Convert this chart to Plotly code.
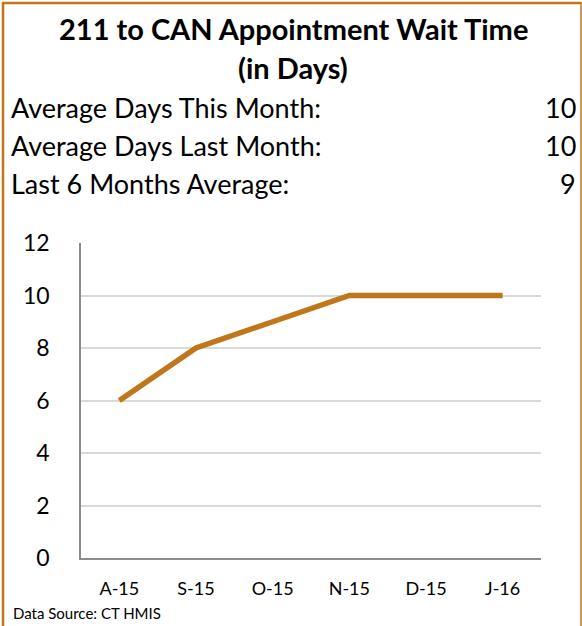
import plotly.graph_objects as go

months = ["A-15", "S-15", "O-15", "N-15", "D-15", "J-16"]
wait_days = [6, 8, 9, 10, 10, 10]
y_ticks = [0, 2, 4, 6, 8, 10, 12]

title_lines = ["211 to CAN Appointment Wait Time", "(in Days)"]
stat_labels = ["Average Days This Month:", "Average Days Last Month:", "Last 6 Months Average:"]
stat_values = ["10", "10", "9"]
source_text = "Data Source: CT HMIS"

W, H = 582, 626
L, R, T, B = 81, 41, 243, 68
PW, PH = W - L - R, H - T - B

def px(x):
    return (x - L) / PW

def py(y):
    return (H - B - y) / PH

FONT = "Lato, 'Open Sans', sans-serif"
ORANGE = "#C0761A"

fig = go.Figure()
fig.add_trace(go.Scatter(
    x=months, y=wait_days, mode="lines",
    line=dict(color=ORANGE, width=5.5),
    hoverinfo="skip", showlegend=False,
))

annotations = []
annotations.append(dict(text="<b>" + title_lines[0] + "</b>", x=px(293), y=py(28),
                        xref="paper", yref="paper", showarrow=False,
                        xanchor="center", yanchor="middle",
                        font=dict(family=FONT, size=29, color="#000")))
annotations.append(dict(text="<b>" + title_lines[1] + "</b>", x=px(293), y=py(67),
                        xref="paper", yref="paper", showarrow=False,
                        xanchor="center", yanchor="middle",
                        font=dict(family=FONT, size=29, color="#000")))
rows_y = [107, 145, 183]
for lab, val, yy in zip(stat_labels, stat_values, rows_y):
    annotations.append(dict(text=lab, x=px(9), y=py(yy), xref="paper", yref="paper",
                            showarrow=False, xanchor="left", yanchor="middle",
                            font=dict(family=FONT, size=27, color="#000")))
    annotations.append(dict(text=val, x=px(578), y=py(yy), xref="paper", yref="paper",
                            showarrow=False, xanchor="right", yanchor="middle",
                            font=dict(family=FONT, size=27, color="#000")))
annotations.append(dict(text=source_text, x=px(11), y=py(613), xref="paper", yref="paper",
                        showarrow=False, xanchor="left", yanchor="middle",
                        font=dict(family=FONT, size=15, color="#000")))

shapes = [
    dict(type="line", xref="paper", yref="paper", x0=px(3), x1=px(3), y0=py(2), y1=py(626),
         line=dict(color=ORANGE, width=2.5)),
    dict(type="line", xref="paper", yref="paper", x0=px(2), x1=px(581), y0=py(3), y1=py(3),
         line=dict(color=ORANGE, width=2.5)),
    dict(type="line", xref="paper", yref="paper", x0=px(581), x1=px(581), y0=py(2), y1=py(626),
         line=dict(color=ORANGE, width=1.5)),
]

fig.update_layout(
    width=W, height=H,
    margin=dict(l=L, r=R, t=T, b=B, pad=0),
    paper_bgcolor="white", plot_bgcolor="white",
    annotations=annotations, shapes=shapes,
    font=dict(family=FONT, color="#000"),
    xaxis=dict(type="category", range=[-0.5, 5.5], showgrid=False,
               showline=True, linecolor="#8C8C8C", linewidth=1.5,
               ticks="", tickfont=dict(size=18, family=FONT), ticklabelstandoff=14,
               fixedrange=True),
    yaxis=dict(range=[0, 12], tickvals=y_ticks, showgrid=True, gridcolor="#D9D9D9",
               gridwidth=1.5, showline=True, linecolor="#8C8C8C", linewidth=1.5,
               zeroline=False, ticks="", tickfont=dict(size=23, family=FONT),
               ticklabelstandoff=25, fixedrange=True),
)

fig.write_html("out.html", config={"displayModeBar": False},
               post_script="document.body.style.margin='0';document.body.style.overflow='hidden';")
